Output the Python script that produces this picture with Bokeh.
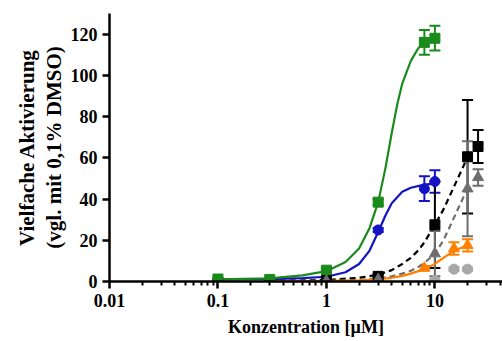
from bokeh.plotting import figure
from bokeh.models import ColumnDataSource, Whisker, TeeHead, FixedTicker, LinearAxis, Range1d
from bokeh.embed import file_html
from bokeh.resources import INLINE

# ---------------- data ----------------
x_major_ticks = [0.01, 0.1, 1, 10]
x_minor_ticks = [0.02, 0.03, 0.04, 0.05, 0.06, 0.07, 0.08, 0.09,
                 0.2, 0.3, 0.4, 0.5, 0.6, 0.7, 0.8, 0.9,
                 2, 3, 4, 5, 6, 7, 8, 9, 20, 30, 40]
x_tick_labels = {0.01: "0.01", 0.1: "0.1", 1: "1", 10: "10"}
y_ticks = [0, 20, 40, 60, 80, 100, 120]

# measured points (mean, error)
green_x = [0.1, 0.3, 1, 3, 8, 10]
green_y = [1.2, 1.0, 5.5, 38.5, 116, 118]
green_e = [0.5, 0.5, 1.0, 1.5, 6, 6]

blue_x = [0.1, 3, 8, 10]
blue_y = [1.0, 25, 45, 48.5]
blue_e = [0.5, 1.0, 6, 5.5]

black_x = [1, 3, 10, 20, 25]
black_y = [0.5, 2.5, 27.5, 60.5, 65.5]
black_e = [0.5, 1.0, 21, 27.5, 8]

dgray_x = [1, 3, 10, 20, 25]
dgray_y = [0.3, 1.0, 13.5, 45, 50.5]
dgray_e = [0.5, 0.8, 11, 23, 4]

orange_x = [0.3, 8, 15, 20]
orange_y = [0.3, 6.5, 16, 17.5]
orange_e = [0.5, 1.0, 3, 3]

lgray_x = [10, 15, 20]
lgray_y = [0.5, 6, 6]
lgray_e = [0.3, 0.8, 0.8]

# fitted curves
green_cx = [0.1, 0.3, 0.6, 1, 1.5, 2, 2.5, 3, 3.5, 4, 4.5, 5, 6, 7, 8]
green_cy = [1.0, 1.5, 3, 5, 9.5, 16, 26, 38.5, 55, 72, 86, 96, 107, 113, 116]

blue_cx = [0.1, 0.3, 0.6, 1, 1.5, 2, 2.5, 3, 3.5, 4, 5, 6, 8, 10]
blue_cy = [1.0, 1.2, 1.6, 2.3, 4.5, 8.5, 15, 24, 32, 38, 43.5, 45.5, 47, 47.5]

black_cx = [0.3, 1, 2, 3, 4, 5, 6, 7, 8, 10, 12, 15, 18, 20]
black_cy = [0.2, 0.7, 1.8, 3.3, 5.5, 8.5, 11.5, 15, 19, 27.5, 35, 46, 55, 60.5]

dgray_cx = [0.3, 1, 2, 3, 4, 5, 6, 7, 8, 10, 12, 15, 18, 20]
dgray_cy = [0.1, 0.3, 0.8, 1.5, 2.5, 3.8, 5.2, 7, 9, 13.5, 20, 31, 40, 45.5]

orange_cx = [0.3, 1, 2, 3, 4, 5, 6, 8, 10, 12, 15, 20]
orange_cy = [0.1, 0.3, 0.6, 1.1, 1.8, 2.7, 3.8, 6, 8.5, 11.5, 15, 17.5]

# ---------------- styles ----------------
GREEN = "#1a8a1a"
BLUE = "#1414c4"
BLACK = "#000000"
DGRAY = "#6e6e6e"
ORANGE = "#ff8000"
LGRAY = "#a8a8a8"
FONT = "Liberation Serif"

p = figure(width=502, height=341, x_axis_type="log",
           x_range=Range1d(0.01, 42), y_range=Range1d(0, 130),
           output_backend="svg", toolbar_location=None,
           min_border_left=109, min_border_right=0,
           min_border_top=13, min_border_bottom=60)
p.background_fill_color = "white"
p.border_fill_color = "white"
p.outline_line_color = None
p.grid.visible = False


def add_whisker(xs, ys, es, color):
    src = ColumnDataSource(dict(x=xs,
                                upper=[y + e for y, e in zip(ys, es)],
                                lower=[y - e for y, e in zip(ys, es)]))
    w = Whisker(source=src, base="x", upper="upper", lower="lower",
                line_color=color, line_width=2,
                upper_head=TeeHead(size=11, line_color=color, line_width=2),
                lower_head=TeeHead(size=11, line_color=color, line_width=2))
    p.add_layout(w)


# curves
p.line(blue_cx, blue_cy, line_color=BLUE, line_width=2.2)
p.line(green_cx, green_cy, line_color=GREEN, line_width=2.2)
p.line(dgray_cx, dgray_cy, line_color=DGRAY, line_width=2.2, line_dash="6 4")
p.line(black_cx, black_cy, line_color=BLACK, line_width=2.2, line_dash="6 4")
p.line(orange_cx, orange_cy, line_color=ORANGE, line_width=2.2)

# error bars
add_whisker(lgray_x, lgray_y, lgray_e, LGRAY)
add_whisker(orange_x, orange_y, orange_e, ORANGE)
add_whisker(blue_x, blue_y, blue_e, BLUE)
add_whisker(green_x, green_y, green_e, GREEN)
add_whisker(black_x, black_y, black_e, BLACK)
add_whisker(dgray_x, dgray_y, dgray_e, DGRAY)

# markers
p.scatter(lgray_x, lgray_y, marker="circle", size=10, color=LGRAY)
p.scatter(orange_x, orange_y, marker="triangle", size=11, color=ORANGE)
p.scatter(blue_x, blue_y, marker="circle", size=10, color=BLUE)
p.scatter(green_x, green_y, marker="square", size=10, color=GREEN)
p.scatter(black_x, black_y, marker="square", size=10, color=BLACK)
p.scatter(dgray_x, dgray_y, marker="triangle", size=11, color=DGRAY)

# axes
xa = p.xaxis[0]
xa.ticker = FixedTicker(ticks=x_major_ticks, minor_ticks=x_minor_ticks)
xa.major_label_overrides = x_tick_labels
xa.axis_label = "Konzentration [µM]"
ya = p.yaxis[0]
ya.ticker = FixedTicker(ticks=y_ticks)
ya.axis_label = "(vgl. mit 0,1% DMSO)"

for ax in (xa, ya):
    ax.axis_line_width = 2.5
    ax.axis_line_color = "black"
    ax.major_tick_line_width = 2.5
    ax.major_tick_line_color = "black"
    ax.major_tick_out = 7
    ax.major_tick_in = 0
    ax.minor_tick_line_width = 2
    ax.minor_tick_line_color = "black"
    ax.minor_tick_out = 4
    ax.minor_tick_in = 0
    ax.major_label_text_font = FONT
    ax.major_label_text_font_style = "bold"
    ax.major_label_text_font_size = "18px"
    ax.major_label_text_color = "black"
    ax.axis_label_text_font = FONT
    ax.axis_label_text_font_style = "bold"
    ax.axis_label_text_color = "black"

xa.axis_label_text_font_size = "18px"
ya.axis_label_text_font_size = "21px"
xa.major_label_standoff = 5
xa.axis_label_standoff = 7
ya.major_label_standoff = 5
ya.axis_label_standoff = 2
ya.minor_tick_line_color = None

extra = LinearAxis(axis_label="Vielfache Aktivierung",
                   ticker=FixedTicker(ticks=[]),
                   axis_line_color=None, major_tick_line_color=None,
                   minor_tick_line_color=None,
                   axis_label_text_font=FONT,
                   axis_label_text_font_style="bold",
                   axis_label_text_font_size="21px",
                   axis_label_text_color="black",
                   axis_label_standoff=0)
p.add_layout(extra, "left")

open("out.html", "w").write(file_html(p, INLINE))
